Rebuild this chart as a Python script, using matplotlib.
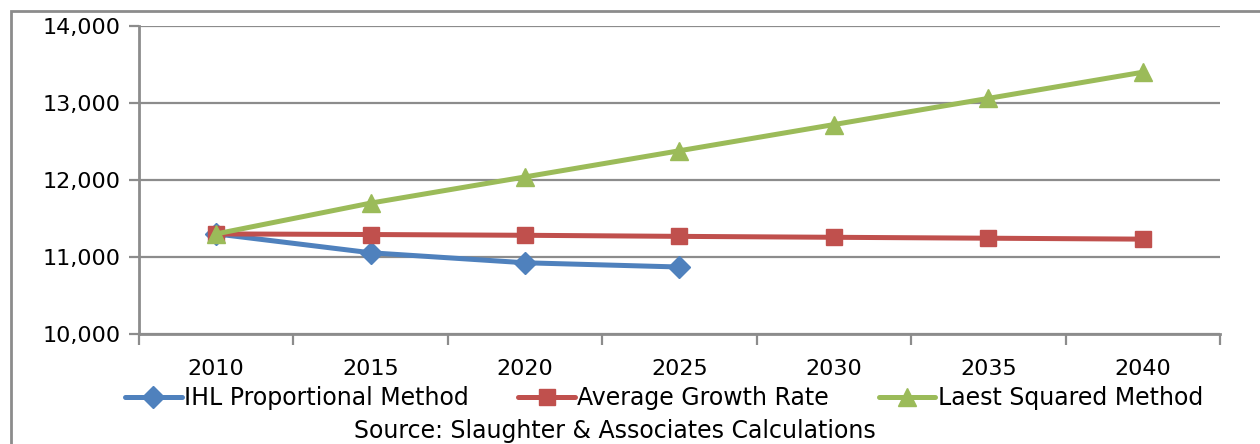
import matplotlib
matplotlib.use('Agg')
import matplotlib.pyplot as plt
from matplotlib.ticker import FuncFormatter, FixedLocator
from matplotlib.patches import Rectangle

years = [2010, 2015, 2020, 2025, 2030, 2035, 2040]
ihl_proportional = [11300, 11055, 10925, 10870]
avg_growth = [11300, 11292, 11282, 11268, 11256, 11244, 11232]
least_squared = [11300, 11700, 12040, 12380, 12720, 13060, 13400]

series = [
    ("IHL Proportional Method", ihl_proportional, "#4F81BD", "D", 11),
    ("Average Growth Rate", avg_growth, "#C0504D", "s", 12),
    ("Laest Squared Method", least_squared, "#9BBB59", "^", 13),
]

plt.rcParams['font.family'] = ['DejaVu Sans']
fig = plt.figure(figsize=(12.6, 4.44), dpi=100)
ax = fig.add_axes([139 / 1260, 1 - 334 / 444, (1220 - 139) / 1260, (334 - 26) / 444])

x = list(range(len(years)))
for name, vals, color, marker, ms in series:
    ax.plot(x[:len(vals)], vals, color=color, lw=3.6, marker=marker, markersize=ms,
            markeredgecolor=color, label=name, zorder=3, solid_capstyle='round')

grey = "#8c8c8c"
ax.set_xlim(-0.5, len(years) - 0.5)
ax.set_ylim(10000, 14000)
ax.set_yticks(range(10000, 14001, 1000))
ax.yaxis.set_major_formatter(FuncFormatter(lambda v, p: f"{int(v):,}"))
ax.grid(axis='y', color=grey, lw=1.6, zorder=0)
ax.set_axisbelow(True)

# category labels centred, tick marks on the boundaries
ax.xaxis.set_major_locator(FixedLocator([i - 0.5 for i in range(len(years) + 1)]))
ax.xaxis.set_minor_locator(FixedLocator(x))
ax.set_xticklabels([])
ax.set_xticklabels([str(y) for y in years], minor=True)
ax.tick_params(axis='x', which='major', length=8, width=1.6, color=grey)
ax.tick_params(axis='x', which='minor', length=0, pad=18, labelsize=16)
ax.tick_params(axis='y', length=7, width=1.6, color=grey, labelsize=16, pad=6)

for side in ('top', 'right'):
    ax.spines[side].set_visible(False)
for side in ('left', 'bottom'):
    ax.spines[side].set_color(grey)
    ax.spines[side].set_linewidth(2)

fig.legend(loc='center', bbox_to_anchor=(0.527, 1 - 398 / 444), ncol=3, frameon=False,
           fontsize=17, handlelength=2.4, handletextpad=0.1, columnspacing=2.1,
           borderaxespad=0)
fig.text(615 / 1260, 1 - 431 / 444, "Source: Slaughter & Associates Calculations",
         ha='center', va='center', fontsize=17)

# chart area outline
fig.patches.append(Rectangle((11 / 1260, -0.1), 1.2, 1 - 11 / 444 + 0.1,
                             transform=fig.transFigure, fill=False, ec=grey, lw=2))

fig.savefig("out.png", dpi=100)
